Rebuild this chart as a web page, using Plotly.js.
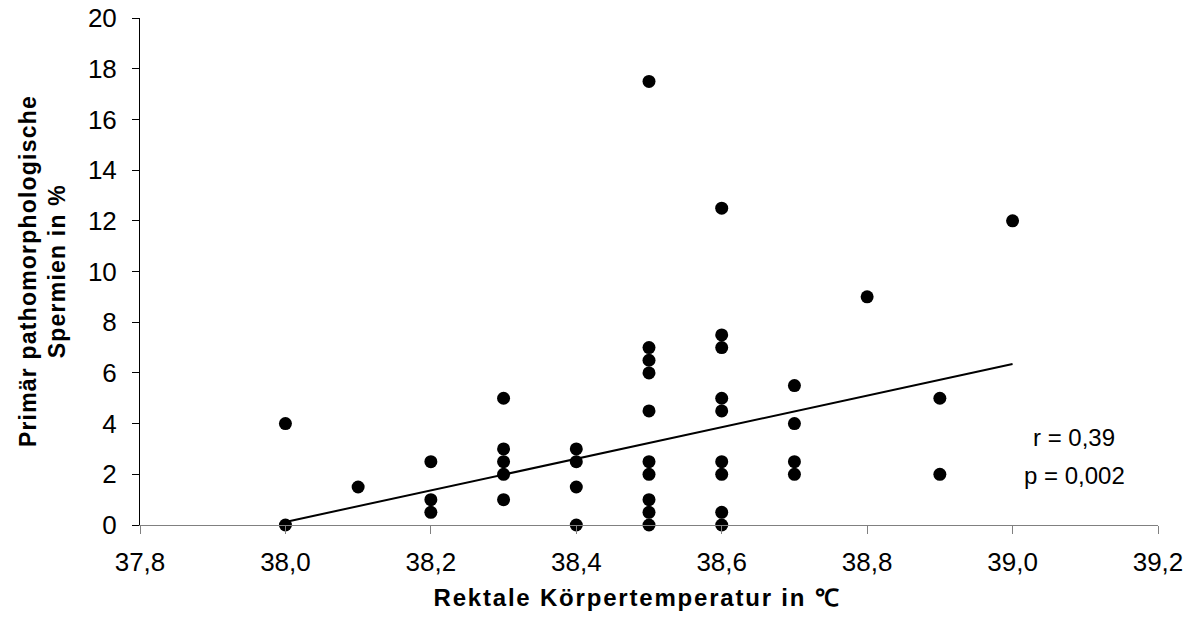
<!DOCTYPE html>
<html><head><meta charset="utf-8">
<script src="https://cdn.plot.ly/plotly-3.0.1.min.js"></script>
<style>body{margin:0;background:#fff}#chart{width:1197px;height:635px}</style>
</head><body><div id="chart"></div>
<script>
// Data
const temperature = [38.0,38.0, 38.1, 38.2,38.2,38.2, 38.3,38.3,38.3,38.3,38.3, 38.4,38.4,38.4,38.4,
  38.5,38.5,38.5,38.5,38.5,38.5,38.5,38.5,38.5,38.5,
  38.6,38.6,38.6,38.6,38.6,38.6,38.6,38.6,38.6,
  38.7,38.7,38.7,38.7, 38.8, 38.9,38.9, 39.0];
const spermien = [4,0, 1.5, 2.5,1,0.5, 5,3,2.5,2,1, 3,2.5,1.5,0,
  17.5,7,6.5,6,4.5,2.5,2,1,0.5,0,
  12.5,7.5,7,5,4.5,2.5,2,0.5,0,
  5.5,4,2.5,2, 9, 5,2, 12];
const trendX = [38.0, 39.0];
const trendY = [0.12, 6.35];
const xTicks = [37.8,38.0,38.2,38.4,38.6,38.8,39.0,39.2];
const xTickLabels = ["37,8","38,0","38,2","38,4","38,6","38,8","39,0","39,2"];
const yTicks = [0,2,4,6,8,10,12,14,16,18,20];
const statsLines = ["r = 0,39", "p = 0,002"];
const statsY = [3.45, 1.95];
const xTitle = "Rektale Körpertemperatur in ℃";
const yTitleLines = ["Primär pathomorphologische", "Spermien in %"];

const font = "Liberation Sans, Arial, sans-serif";
const traces = [
  {x: trendX, y: trendY, mode: 'lines', line: {color: '#000', width: 2}, hoverinfo: 'skip'},
  {x: temperature, y: spermien, mode: 'markers', marker: {color: '#000', size: 13}, cliponaxis: false}
];
const annotations = statsLines.map((t, i) => ({
  x: 39.085, y: statsY[i], xref: 'x', yref: 'y', text: t, showarrow: false,
  xanchor: 'center', yanchor: 'middle', font: {family: font, size: 24}
}));
annotations.push({
  xref: 'paper', yref: 'paper', x: 0, y: 0.5, xanchor: 'center', yanchor: 'middle',
  xshift: -98, yshift: 0, textangle: -90, showarrow: false,
  text: '<b>' + yTitleLines.join('<br>') + '</b>', font: {family: font, size: 23}
});
const layout = {
  width: 1197, height: 635,
  margin: {l: 140, r: 39, t: 18, b: 110},
  paper_bgcolor: '#fff', plot_bgcolor: '#fff',
  showlegend: false,
  font: {family: font, color: '#000', size: 26},
  xaxis: {
    range: [37.8, 39.2], tickvals: xTicks, ticktext: xTickLabels,
    showgrid: false, zeroline: false, showline: true, linecolor: '#808080', linewidth: 1,
    ticks: 'outside', ticklen: 8, tickcolor: '#808080', ticklabelstandoff: 6,
    tickfont: {family: font, size: 26},
    title: {text: '<b>' + xTitle + '</b>', font: {family: font, size: 24}, standoff: 12}
  },
  yaxis: {
    range: [0, 20], tickvals: yTicks,
    showgrid: false, zeroline: false, showline: true, linecolor: '#000', linewidth: 1,
    ticks: 'outside', ticklen: 7, tickcolor: '#000', ticklabelstandoff: 10,
    tickfont: {family: font, size: 26}
  },
  annotations: annotations
};
Plotly.newPlot('chart', traces, layout, {displayModeBar: false, staticPlot: true}).then(() => {
  document.querySelectorAll('.g-xtitle text, .annotation-text-g text').forEach(el => {
    if (el.textContent.indexOf('Rektale') >= 0) {
      el.style.letterSpacing = '1.8px';
      el.setAttribute('transform', 'translate(-12,0)');
    } else if (el.textContent.indexOf('Primär') >= 0) {
      el.style.letterSpacing = '1.2px';
    }
  });
});
</script></body></html>
